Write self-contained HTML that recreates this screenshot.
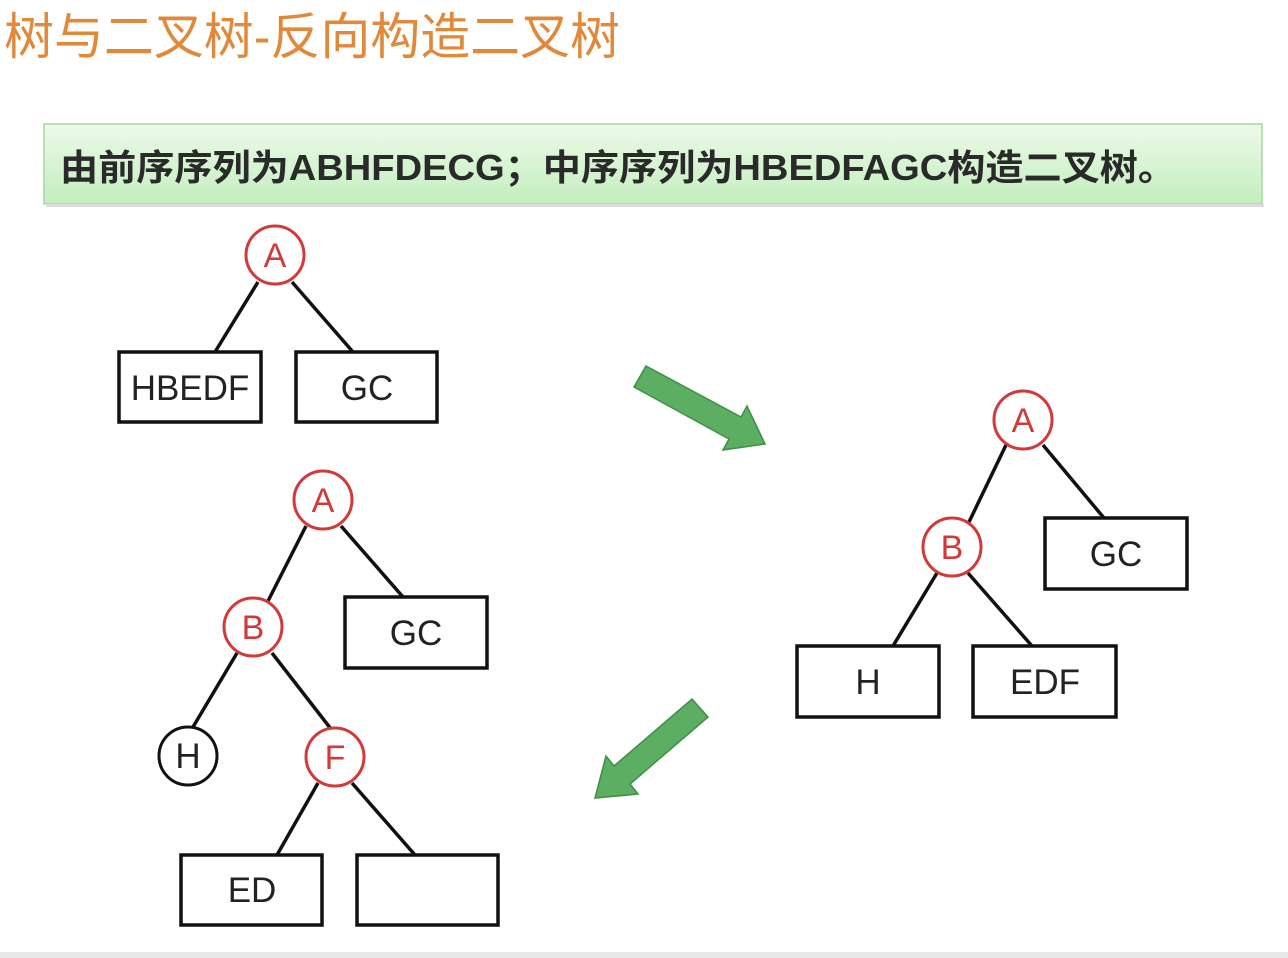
<!DOCTYPE html>
<html><head><meta charset="utf-8"><style>
html,body{margin:0;padding:0;background:#fff;}
svg{display:block;}
</style></head><body>
<svg width="1288" height="958" viewBox="0 0 1288 958" xmlns="http://www.w3.org/2000/svg">
<defs>
<linearGradient id="g" x1="0" y1="0" x2="0" y2="1">
<stop offset="0" stop-color="#eef9ea"/><stop offset="1" stop-color="#c2efbd"/>
</linearGradient>
</defs>
<rect width="1288" height="958" fill="#fff"/>
<text x="4" y="54" font-family="'Liberation Sans','Noto Sans CJK SC',sans-serif" font-size="50" fill="#e0893a" textLength="616" lengthAdjust="spacingAndGlyphs">树与二叉树-反向构造二叉树</text>
<rect x="44" y="124" width="1218" height="80" fill="url(#g)" stroke="#a9d6a2" stroke-width="1.5"/>
<rect x="46" y="204" width="1218" height="3" fill="#ddd"/>
<text x="60" y="180" font-family="'Liberation Sans','Noto Sans CJK SC',sans-serif" font-size="36" font-weight="bold" fill="#2a2a2a" textLength="1116" lengthAdjust="spacingAndGlyphs">由前序序列为ABHFDECG；中序序列为HBEDFAGC构造二叉树。</text>

<g stroke="#111" stroke-width="3.5" fill="none">
<line x1="258" y1="282" x2="215" y2="352"/><line x1="292" y1="282" x2="353" y2="352"/>
<rect x="119" y="352" width="142" height="70"/><rect x="296" y="352" width="141" height="70"/>
<line x1="1006" y1="445" x2="969" y2="522"/><line x1="1043" y1="445" x2="1104" y2="518"/>
<line x1="937" y1="573" x2="893" y2="646"/><line x1="968" y1="573" x2="1032" y2="646"/>
<rect x="1045" y="518" width="142" height="71"/><rect x="797" y="646" width="142" height="71"/><rect x="973" y="646" width="143" height="71"/>
<line x1="306" y1="526" x2="268" y2="601"/><line x1="341" y1="526" x2="403" y2="597"/>
<line x1="237" y1="653" x2="193" y2="727"/><line x1="272" y1="653" x2="331" y2="729"/>
<line x1="318" y1="783" x2="277" y2="855"/><line x1="352" y1="783" x2="415" y2="855"/>
<rect x="345" y="597" width="142" height="71"/><rect x="181" y="855" width="141" height="70"/><rect x="357" y="855" width="141" height="70"/>
</g>
<g fill="#fff" stroke="#d23a3a" stroke-width="3">
<circle cx="275" cy="255" r="29"/>
<circle cx="1023" cy="420" r="29"/><circle cx="952" cy="547" r="29"/>
<circle cx="323" cy="500" r="29"/><circle cx="253" cy="627" r="29"/><circle cx="335" cy="757" r="29"/>
</g>
<circle cx="188" cy="756" r="29" fill="#fff" stroke="#111" stroke-width="3"/>
<g font-family="'Liberation Sans',sans-serif" font-size="34" fill="#d23a3a" text-anchor="middle">
<text x="275" y="267">A</text><text x="1023" y="432">A</text><text x="952" y="559">B</text>
<text x="323" y="512">A</text><text x="253" y="639">B</text><text x="335" y="769">F</text>
</g>
<g font-family="'Liberation Sans',sans-serif" font-size="35" fill="#222" text-anchor="middle">
<text x="188" y="768">H</text>
<text x="190" y="400">HBEDF</text><text x="367" y="400">GC</text>
<text x="1116" y="566">GC</text><text x="868" y="694">H</text><text x="1045" y="694">EDF</text>
<text x="416" y="645">GC</text><text x="252" y="902">ED</text>
</g>
<g fill="#5cae62" stroke="#3f8f47" stroke-width="1.5">
<polygon points="646,366 741,417 747,406 765,444 723,450 729,439 634,387"/>
<polygon points="692,699 708,717 630,784 638,794 595,798 606,756 614,766"/>
</g>
<rect x="0" y="952" width="1288" height="6" fill="#e8e8e8"/>
</svg>
</body></html>
